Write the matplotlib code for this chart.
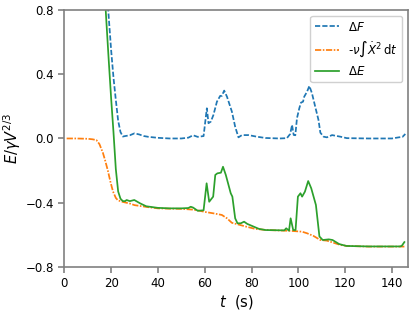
import matplotlib
matplotlib.use("Agg")
import matplotlib.pyplot as plt

# Delta F (blue dashed)
t_F = [18, 19, 20, 21, 22, 23, 24, 25, 26, 28, 30, 32, 34, 36, 40, 45, 50, 53, 55, 57, 59.5,
       60.9, 61.6, 62.6, 63.7, 65.2, 66.6, 67.3, 68.3, 69.5, 70.9, 71.6, 73, 74.4, 75.9, 78.7,
       82.3, 86, 92, 95.1, 96.5, 97.3, 98, 98.7, 99.4, 100.4, 101.1, 102, 102.5, 103.7, 104.7,
       105.8, 107.2, 108.6, 109.4, 110.8, 112.2, 114.4, 118, 120.7, 130, 140, 142.9, 144.5, 145.7]
dF = [0.97, 0.75, 0.55, 0.38, 0.24, 0.11, 0.04, 0.012, 0.015, 0.02, 0.032, 0.025, 0.015, 0.01,
      0.004, 0.0, 0.0, 0.005, 0.02, 0.01, 0.015,
      0.188, 0.095, 0.105, 0.146, 0.229, 0.265, 0.265, 0.298, 0.26, 0.198, 0.167, 0.073, 0.007,
      0.021, 0.021, 0.011, 0.003, 0.0, 0.002, 0.028, 0.084, 0.022, 0.02, 0.126, 0.188, 0.223,
      0.229, 0.26, 0.291, 0.327, 0.282, 0.198, 0.115, 0.036, 0.011, 0.007, 0.021, 0.011, 0.002,
      0.0, 0.0, 0.007, 0.01, 0.028]

# -nu * int Xdot^2 dt (orange dash-dot)
t_D = [1, 5, 10, 12, 13.7, 15, 16.5, 17.5, 18.6, 19.7, 20.8, 22, 22.9, 25, 28, 30, 35.5, 40,
       45, 50, 55, 58.1, 60, 63.7, 67.3, 69.5, 71.6, 73.7, 78, 81.6, 86.6, 96.5, 101.5, 103.7,
       106.5, 109.4, 112.2, 115, 118, 120.8, 130, 145.3]
diss = [0.0, 0.0, -0.002, -0.005, -0.01, -0.035, -0.09, -0.14, -0.2, -0.27, -0.33, -0.37,
        -0.385, -0.395, -0.405, -0.415, -0.427, -0.435, -0.437, -0.438, -0.443, -0.451, -0.457,
        -0.466, -0.476, -0.497, -0.525, -0.533, -0.55, -0.563, -0.57, -0.575, -0.58, -0.59,
        -0.607, -0.632, -0.636, -0.649, -0.663, -0.669, -0.673, -0.673]

# Delta E (green solid)
t_E = [17, 18, 19, 20, 21, 22, 23, 24, 25, 26, 26.6, 28, 29.9, 32.4, 35, 40, 45, 50, 53, 54,
       55, 57, 59.5, 60.8, 61.9, 63.6, 64.5, 65.4, 66.9, 67.8, 69, 71.1, 71.8, 73, 74, 75.4,
       76.8, 78.2, 80.3, 83.2, 86, 94, 94.8, 96, 96.7, 97.8, 98.8, 99.8, 100.9, 101.6, 102.8,
       104.2, 105.5, 107.5, 109, 110.4, 113, 114.6, 117.4, 120.5, 130, 143.5, 144.2, 145.3]
dE = [0.97, 0.72, 0.48, 0.25, 0.04, -0.19, -0.33, -0.375, -0.39, -0.39, -0.383, -0.39, -0.383,
      -0.404, -0.422, -0.432, -0.435, -0.435, -0.433, -0.425, -0.43, -0.45, -0.447, -0.279,
      -0.394, -0.362, -0.227, -0.217, -0.213, -0.176, -0.227, -0.341, -0.362, -0.497, -0.528,
      -0.528, -0.518, -0.532, -0.545, -0.563, -0.57, -0.572, -0.559, -0.574, -0.497, -0.57,
      -0.57, -0.362, -0.341, -0.362, -0.331, -0.265, -0.31, -0.414, -0.61, -0.632, -0.628,
      -0.632, -0.657, -0.669, -0.672, -0.672, -0.668, -0.645]

x_ticks = [0, 20, 40, 60, 80, 100, 120, 140]
y_ticks = [-0.8, -0.4, 0.0, 0.4, 0.8]
y_tick_labels = ['\u22120.8', '\u22120.4', '0.0', '0.4', '0.8']

fig = plt.figure(figsize=(4.15, 3.11), dpi=100)
ax = fig.add_axes([0.155, 0.1415, 0.829, 0.8265])

ax.plot(t_F, dF, color='#1f77b4', ls=(0, (3.0, 1.2)), lw=1.25, label=r'$\Delta F$')
ax.plot(t_D, diss, color='#ff7f0e', ls=(0, (3.6, 0.9, 0.9, 0.9)), lw=1.25,
        label=r'-$\nu\int\dot{X}^2\,\mathrm{d}t$')
ax.plot(t_E, dE, color='#2ca02c', ls='-', lw=1.25, label=r'$\Delta E$')

ax.set_xlim(0, 147)
ax.set_ylim(-0.8, 0.8)
ax.set_xticks(x_ticks)
ax.set_yticks(y_ticks)
ax.set_yticklabels(y_tick_labels)
for s in ax.spines.values():
    s.set_color('#808080')
    s.set_linewidth(1.2)
ax.tick_params(axis='both', colors='#808080', labelcolor='black', labelsize=8.5, length=4, width=1.2)
ax.set_xlabel(r'$t$  (s)', fontsize=10.5, labelpad=2)
ax.set_ylabel(r'$E/\gamma V^{2/3}$', fontsize=10.5, labelpad=2)
ax.legend(loc='upper right', fontsize=8.5, framealpha=1, edgecolor='#d0d0d0')

fig.savefig('out.png', dpi=100)
